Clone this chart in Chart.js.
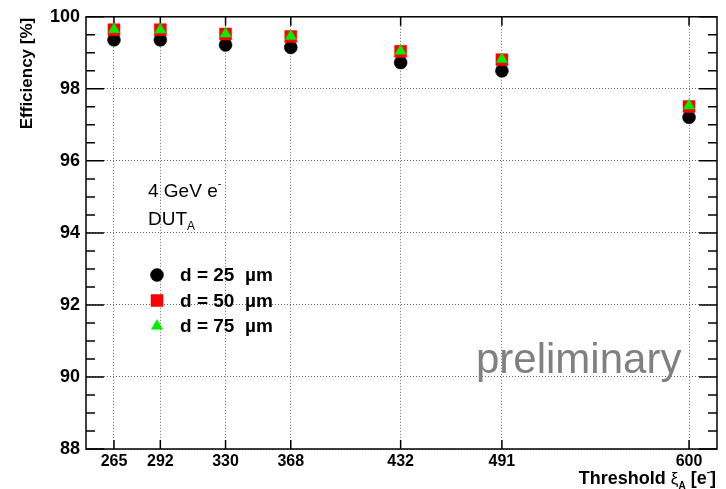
<!DOCTYPE html>
<html>
<head>
<meta charset="utf-8">
<script src="https://cdn.jsdelivr.net/npm/chart.js@4/dist/chart.umd.min.js"></script>
<style>
  html, body { margin: 0; padding: 0; background: #fff; }
  #wrap { width: 726px; height: 489px; }
</style>
</head>
<body>
<div id="wrap"><canvas id="c" width="726" height="489"></canvas></div>
<script>
// Threshold values (electrons) and measured efficiencies (%)
const thresholds = [265, 292, 330, 368, 432, 491, 600];
const eff25 = [99.36, 99.36, 99.22, 99.15, 98.73, 98.50, 97.21];
const eff50 = [99.64, 99.64, 99.52, 99.45, 99.04, 98.81, 97.51];
const eff75 = [99.65, 99.64, 99.53, 99.46, 99.05, 98.82, 97.53];
const seriesLabels = ['d = 25  \u00b5m', 'd = 50  \u00b5m', 'd = 75  \u00b5m'];
const yTicks = [88, 90, 92, 94, 96, 98, 100];

const FONT = '"Liberation Sans", Arial, Helvetica, sans-serif';
const markerStyles = [
  { pointStyle: 'circle',   radius: 6.5, color: '#000000' },
  { pointStyle: 'rect',     radius: 8.5, color: '#ff0000' },
  { pointStyle: 'triangle', radius: 6.5, color: '#00ee00' }
];

function pts(ys) { return thresholds.map((x, i) => ({ x: x, y: ys[i] })); }

function makeDataset(label, ys, m, order) {
  return {
    label: label,
    data: pts(ys),
    pointStyle: m.pointStyle,
    pointRadius: m.radius,
    pointHoverRadius: m.radius,
    backgroundColor: m.color,
    borderColor: m.color,
    borderWidth: 0.5,
    showLine: false,
    order: order
  };
}

// Draws a run of text pieces, each with its own font and vertical shift
function drawRich(ctx, x, y, pieces, align) {
  let total = 0;
  pieces.forEach(p => { ctx.font = p.font; total += ctx.measureText(p.text).width; });
  let cx = align === 'right' ? x - total : x;
  ctx.textAlign = 'left';
  pieces.forEach(p => {
    ctx.font = p.font;
    ctx.fillText(p.text, cx, y + (p.dy || 0));
    cx += ctx.measureText(p.text).width;
  });
}

// Box frame, inward ticks on all four sides, labels and legend
const decorations = {
  id: 'decorations',
  beforeDatasetsDraw(chart) {
    const { ctx, chartArea: a, scales } = chart;
    const xs = scales.x, ys = scales.y;
    ctx.save();
    ctx.strokeStyle = '#000';
    ctx.lineWidth = 1.5;
    ctx.strokeRect(a.left, a.top, a.right - a.left, a.bottom - a.top);
    ctx.beginPath();
    thresholds.forEach(v => {
      const px = xs.getPixelForValue(v);
      ctx.moveTo(px, a.bottom); ctx.lineTo(px, a.bottom - 9);
      ctx.moveTo(px, a.top); ctx.lineTo(px, a.top + 9);
    });
    const yMin = yTicks[0], yMax = yTicks[yTicks.length - 1];
    for (let v = yMin; v <= yMax + 1e-9; v += 0.5) {
      const py = ys.getPixelForValue(v);
      const major = yTicks.includes(Math.round(v * 10) / 10);
      const len = major ? 18 : 9;
      ctx.moveTo(a.left, py); ctx.lineTo(a.left + len, py);
      ctx.moveTo(a.right, py); ctx.lineTo(a.right - len, py);
    }
    ctx.stroke();
    ctx.restore();
  },
  afterDraw(chart) {
    const { ctx, chartArea: a } = chart;
    ctx.save();
    ctx.fillStyle = '#000';
    ctx.textBaseline = 'alphabetic';

    // y axis title
    ctx.save();
    ctx.translate(32, a.top + 1);
    ctx.rotate(-Math.PI / 2);
    ctx.font = 'bold 17px ' + FONT;
    ctx.textAlign = 'right';
    ctx.fillText('Efficiency [%]', 0, 0);
    ctx.restore();

    // x axis title
    drawRich(ctx, 716, 484, [
      { text: 'Threshold ', font: 'bold 18px ' + FONT },
      { text: '\u03be', font: '17px ' + FONT },
      { text: 'A', font: 'bold 10px ' + FONT, dy: 5 },
      { text: ' [e', font: 'bold 18px ' + FONT },
      { text: '-', font: 'bold 10px ' + FONT, dy: -9 },
      { text: ']', font: 'bold 18px ' + FONT }
    ], 'right');

    // beam and device annotation
    drawRich(ctx, 148, 197, [
      { text: '4 GeV e', font: '19px ' + FONT },
      { text: '-', font: '11px ' + FONT, dy: -10 }
    ], 'left');
    drawRich(ctx, 148, 225, [
      { text: 'DUT', font: '19px ' + FONT },
      { text: 'A', font: '12px ' + FONT, dy: 5 }
    ], 'left');

    // legend
    const legendY = [275, 300.5, 326];
    seriesLabels.forEach((lab, i) => {
      const m = markerStyles[i];
      ctx.fillStyle = m.color;
      ctx.strokeStyle = m.color;
      ctx.lineWidth = 0.5;
      Chart.helpers.drawPoint(ctx, { pointStyle: m.pointStyle, radius: m.radius, rotation: 0, borderWidth: 0.5 }, 157, legendY[i]);
      ctx.fillStyle = '#000';
      ctx.font = 'bold 19px ' + FONT;
      ctx.textAlign = 'left';
      ctx.textBaseline = 'middle';
      ctx.fillText(lab, 180, legendY[i] + 1);
    });

    // watermark
    ctx.textBaseline = 'alphabetic';
    ctx.fillStyle = '#808080';
    ctx.font = '42px ' + FONT;
    ctx.textAlign = 'left';
    ctx.fillText('preliminary', 476, 373);
    ctx.restore();
  }
};

new Chart(document.getElementById('c'), {
  type: 'scatter',
  data: {
    datasets: [
      makeDataset(seriesLabels[0], eff25, markerStyles[0], 3),
      makeDataset(seriesLabels[1], eff50, markerStyles[1], 2),
      makeDataset(seriesLabels[2], eff75, markerStyles[2], 1)
    ]
  },
  options: {
    responsive: false,
    animation: false,
    devicePixelRatio: 1,
    layout: { padding: { top: 16, right: 8, left: 0, bottom: 0 } },
    plugins: { legend: { display: false }, tooltip: { enabled: false }, title: { display: false } },
    scales: {
      x: {
        type: 'linear',
        min: 248.7,
        max: 616.3,
        afterBuildTicks(scale) { scale.ticks = thresholds.map(v => ({ value: v })); },
        afterFit(scale) { scale.height = 40; },
        ticks: {
          autoSkip: false, maxRotation: 0, padding: 3, color: '#000',
          font: { family: FONT, size: 16, weight: 'bold' },
          callback: v => String(v)
        },
        grid: { color: 'rgba(0,0,0,0.6)', lineWidth: 1, drawTicks: false },
        border: { display: false, dash: [1, 2] }
      },
      y: {
        type: 'linear',
        min: yTicks[0],
        max: yTicks[yTicks.length - 1],
        afterBuildTicks(scale) { scale.ticks = yTicks.map(v => ({ value: v })); },
        afterFit(scale) { scale.width = 86; },
        ticks: {
          padding: 6, color: '#000',
          font: { family: FONT, size: 18, weight: 'bold' },
          callback: v => String(v)
        },
        grid: { color: 'rgba(0,0,0,0.6)', lineWidth: 1, drawTicks: false },
        border: { display: false, dash: [1, 2] }
      }
    }
  },
  plugins: [decorations]
});
</script>
</body>
</html>
